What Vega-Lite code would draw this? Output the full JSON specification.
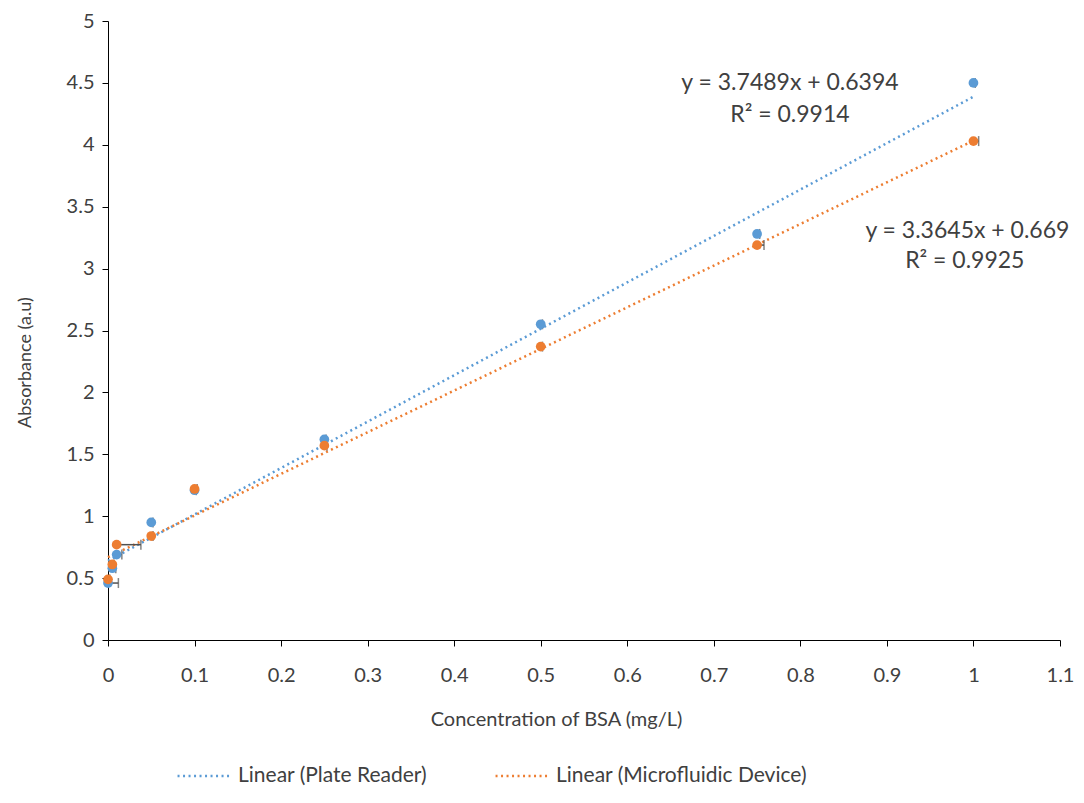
{
  "$schema": "https://vega.github.io/schema/vega-lite/v6.json",
  "width": 952,
  "height": 619,
  "autosize": "none",
  "padding": {"left": 108, "top": 21, "right": 24, "bottom": 163},
  "background": "white",
  "config": {
    "view": {"stroke": null},
    "font": "Lato",
    "axis": {"grid": false, "domainColor": "#000000", "tickColor": "#000000", "labelColor": "#404040", "titleColor": "#404040", "labelFont": "Lato", "titleFont": "Lato", "labelFontSize": 20, "titleFontSize": 20, "titleFontWeight": "normal", "format": "~g"}
  },
  "datasets": {
    "pts": [
      {"series": "Plate Reader", "conc": 0, "abs": 0.46, "xerr": 0.012},
      {"series": "Plate Reader", "conc": 0.005, "abs": 0.58, "xerr": 0.004},
      {"series": "Plate Reader", "conc": 0.01, "abs": 0.69, "xerr": 0.006},
      {"series": "Plate Reader", "conc": 0.05, "abs": 0.95, "xerr": 0.002},
      {"series": "Plate Reader", "conc": 0.1, "abs": 1.21, "xerr": 0.002},
      {"series": "Plate Reader", "conc": 0.25, "abs": 1.62, "xerr": 0.002},
      {"series": "Plate Reader", "conc": 0.5, "abs": 2.55, "xerr": 0.002},
      {"series": "Plate Reader", "conc": 0.75, "abs": 3.28, "xerr": 0.003},
      {"series": "Plate Reader", "conc": 1, "abs": 4.5, "xerr": 0.002},
      {"series": "Microfluidic Device", "conc": 0, "abs": 0.49, "xerr": 0.002},
      {"series": "Microfluidic Device", "conc": 0.005, "abs": 0.61, "xerr": 0.002},
      {"series": "Microfluidic Device", "conc": 0.01, "abs": 0.77, "xerr": 0.028},
      {"series": "Microfluidic Device", "conc": 0.05, "abs": 0.84, "xerr": 0.002},
      {"series": "Microfluidic Device", "conc": 0.1, "abs": 1.22, "xerr": 0.003},
      {"series": "Microfluidic Device", "conc": 0.25, "abs": 1.57, "xerr": 0.003},
      {"series": "Microfluidic Device", "conc": 0.5, "abs": 2.37, "xerr": 0.002},
      {"series": "Microfluidic Device", "conc": 0.75, "abs": 3.19, "xerr": 0.008},
      {"series": "Microfluidic Device", "conc": 1, "abs": 4.03, "xerr": 0.006}
    ],
    "trend": [
      {"trend": "Linear (Plate Reader)", "conc": 0, "abs": 0.6394},
      {"trend": "Linear (Plate Reader)", "conc": 1, "abs": 4.3883},
      {"trend": "Linear (Microfluidic Device)", "conc": 0, "abs": 0.669},
      {"trend": "Linear (Microfluidic Device)", "conc": 1, "abs": 4.0335}
    ],
    "notes": [
      {"label": "y = 3.7489x + 0.6394", "conc": 0.788, "abs": 4.5},
      {"label": "R² = 0.9914", "conc": 0.788, "abs": 4.24},
      {"label": "y = 3.3645x + 0.669", "conc": 0.993, "abs": 3.3},
      {"label": "R² = 0.9925", "conc": 0.99, "abs": 3.06}
    ]
  },
  "layer": [
    {
      "data": {"name": "trend"},
      "mark": {"type": "line", "strokeWidth": 2.5, "strokeDash": [2, 3.5]},
      "encoding": {
        "x": {"field": "conc", "type": "quantitative", "scale": {"domain": [0, 1.1], "nice": false}, "axis": {"values": [0, 0.1, 0.2, 0.3, 0.4, 0.5, 0.6, 0.7, 0.8, 0.9, 1, 1.1], "title": "Concentration of BSA (mg/L)", "tickSize": 6, "labelPadding": 19, "titleX": 448, "titleY": 79, "titleBaseline": "middle", "titleAlign": "center", "labelFlush": false}},
        "y": {"field": "abs", "type": "quantitative", "scale": {"domain": [0, 5], "nice": false}, "axis": {"values": [0, 0.5, 1, 1.5, 2, 2.5, 3, 3.5, 4, 4.5, 5], "title": "Absorbance (a.u)", "tickSize": 6, "labelPadding": 8, "titleX": -83, "titleY": 341, "titleAngle": 270, "titleAlign": "center", "titleBaseline": "middle", "titleFontSize": 18, "labelFlush": false}},
        "color": {"field": "trend", "type": "nominal", "scale": {"domain": ["Linear (Plate Reader)", "Linear (Microfluidic Device)"], "range": ["#5B9BD5", "#ED7D31"]},
          "legend": {"title": null, "orient": "none", "legendX": 68, "legendY": 727, "direction": "horizontal", "columns": 2, "columnPadding": 62, "symbolType": "stroke", "symbolSize": 2800, "symbolStrokeWidth": 2.5, "symbolDash": [2, 3.5], "labelFontSize": 21, "labelFont": "Lato", "labelColor": "#404040", "labelOffset": 6, "labelLimit": 0}}
      }
    },
    {
      "data": {"name": "pts"},
      "mark": {"type": "rule", "color": "#505050", "strokeWidth": 1.5},
      "encoding": {
        "x": {"field": "conc", "type": "quantitative"},
        "x2": {"field": "xend"},
        "y": {"field": "abs", "type": "quantitative"}
      },
      "transform": [{"calculate": "datum.conc + datum.xerr", "as": "xend"}]
    },
    {
      "data": {"name": "pts"},
      "transform": [{"calculate": "datum.conc + datum.xerr", "as": "xend"}],
      "mark": {"type": "tick", "orient": "vertical", "color": "#505050", "size": 10, "thickness": 1.5},
      "encoding": {
        "x": {"field": "xend", "type": "quantitative"},
        "y": {"field": "abs", "type": "quantitative"}
      }
    },
    {
      "data": {"name": "pts"},
      "mark": {"type": "circle", "size": 95, "opacity": 1},
      "encoding": {
        "x": {"field": "conc", "type": "quantitative"},
        "y": {"field": "abs", "type": "quantitative"},
        "color": {"field": "series", "type": "nominal", "scale": {"domain": ["Plate Reader", "Microfluidic Device"], "range": ["#5B9BD5", "#ED7D31"]}, "legend": null},
        "order": {"field": "series", "sort": "descending"}
      }
    },
    {
      "data": {"name": "notes"},
      "mark": {"type": "text", "fontSize": 23, "font": "Lato", "color": "#404040", "align": "center", "baseline": "middle"},
      "encoding": {
        "x": {"field": "conc", "type": "quantitative"},
        "y": {"field": "abs", "type": "quantitative"},
        "text": {"field": "label"}
      }
    }
  ],
  "resolve": {"scale": {"color": "independent"}}
}
